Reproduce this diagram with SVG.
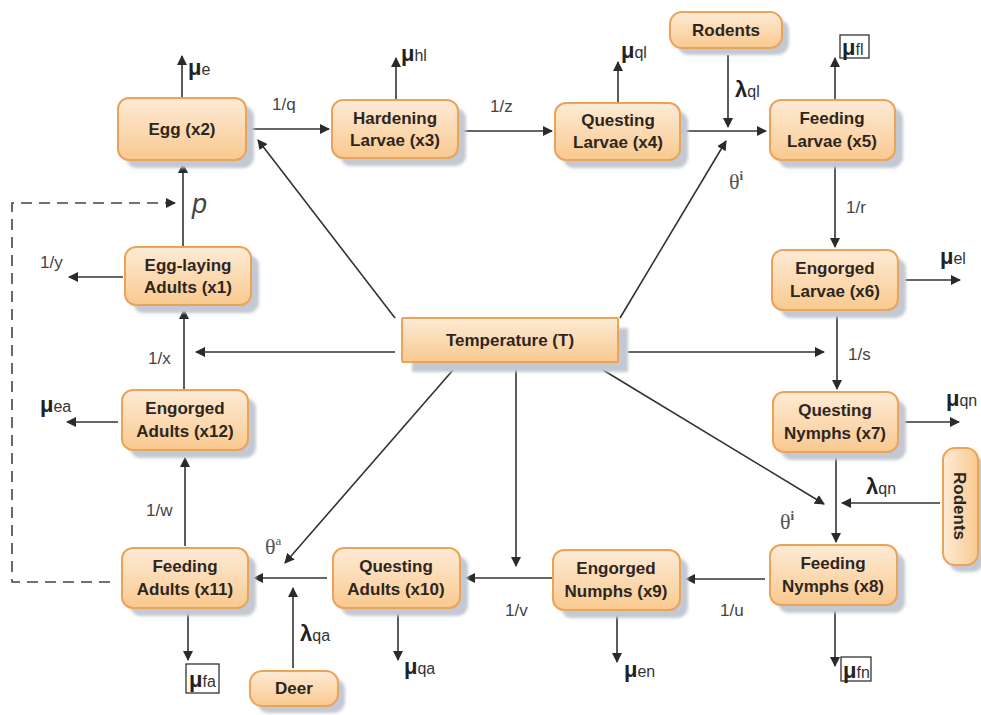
<svg xmlns="http://www.w3.org/2000/svg" width="981" height="715" viewBox="0 0 981 715">
<defs>
<linearGradient id="g" x1="0" y1="0" x2="0" y2="1">
<stop offset="0" stop-color="#fdebd6"/>
<stop offset="1" stop-color="#f9c98f"/>
</linearGradient>
<linearGradient id="gh" x1="0" y1="0" x2="1" y2="0">
<stop offset="0" stop-color="#fdebd6"/>
<stop offset="1" stop-color="#f9c98f"/>
</linearGradient>
<marker id="a" viewBox="0 0 10 10" refX="9" refY="5" markerWidth="10" markerHeight="10" markerUnits="userSpaceOnUse" orient="auto">
<path d="M0,0 L10,5 L0,10 Z" fill="#2b2b2b"/>
</marker>
<filter id="bl" x="-10%" y="-10%" width="120%" height="120%"><feGaussianBlur stdDeviation="1.5"/></filter>
</defs>
<style>
.sh{fill:#c3c8d2;filter:url(#bl)}
.nd{fill:url(#g);stroke:#eba35a;stroke-width:2}
.t{font-family:"Liberation Sans Narrow","Liberation Sans",Arial,sans-serif;font-weight:bold;font-size:17px;fill:#2e261e;text-anchor:middle}
.c{stroke:#333;stroke-width:1.6;fill:none;marker-end:url(#a)}
.d{stroke:#444;stroke-width:1.6;fill:none;stroke-dasharray:11 7;marker-end:url(#a)}
.l{font-family:"Liberation Sans",Arial,sans-serif;font-size:17px;fill:#444}
.mu{font-family:"Liberation Sans",Arial,sans-serif;font-size:22px;font-weight:bold;fill:#222}
.sub{font-family:"Liberation Sans",Arial,sans-serif;font-size:16px;font-weight:normal;fill:#333}
.th{font-family:"Liberation Serif","Times New Roman",serif;font-size:22px;fill:#555}
.bx{fill:#fff;stroke:#333;stroke-width:1.3}
</style>

<g id="connectors">
<line class="c" x1="182" y1="98" x2="182" y2="56"/>
<line class="c" x1="250" y1="129" x2="329" y2="129"/>
<line class="c" x1="396" y1="100" x2="396" y2="58"/>
<line class="c" x1="464" y1="131" x2="552" y2="131"/>
<line class="c" x1="618" y1="103" x2="618" y2="62"/>
<line class="c" x1="686" y1="131" x2="766" y2="131"/>
<line class="c" x1="728" y1="55" x2="728" y2="127"/>
<line class="c" x1="620" y1="318" x2="726" y2="141"/>
<line class="c" x1="835" y1="100" x2="835" y2="58"/>
<line class="c" x1="835" y1="163" x2="835" y2="247"/>
<line class="c" x1="905" y1="280" x2="960" y2="280"/>
<line class="c" x1="837" y1="315" x2="837" y2="389"/>
<line class="c" x1="628" y1="352" x2="824" y2="352"/>
<line class="c" x1="905" y1="422" x2="959" y2="422"/>
<line class="c" x1="836" y1="458" x2="836" y2="542"/>
<line class="c" x1="940" y1="503" x2="842" y2="503"/>
<line class="c" x1="603" y1="370" x2="824" y2="504"/>
<line class="c" x1="835" y1="610" x2="835" y2="666"/>
<line class="c" x1="765" y1="579" x2="686" y2="579"/>
<line class="c" x1="516" y1="365" x2="516" y2="566"/>
<line class="c" x1="552" y1="578" x2="466" y2="578"/>
<line class="c" x1="617" y1="612" x2="617" y2="662"/>
<line class="c" x1="398" y1="613" x2="398" y2="660"/>
<line class="c" x1="327" y1="578" x2="254" y2="578"/>
<line class="c" x1="293" y1="668" x2="293" y2="588"/>
<line class="c" x1="453" y1="370" x2="285" y2="563"/>
<line class="c" x1="188" y1="612" x2="188" y2="660"/>
<line class="c" x1="185" y1="546" x2="185" y2="458"/>
<line class="c" x1="118" y1="422" x2="67" y2="422"/>
<line class="c" x1="184" y1="389" x2="184" y2="310"/>
<line class="c" x1="395" y1="352" x2="196" y2="352"/>
<line class="c" x1="123" y1="277" x2="69" y2="277"/>
<line class="c" x1="183" y1="247" x2="183" y2="164"/>
<line class="c" x1="395" y1="318" x2="258" y2="140"/>
<polyline class="d" points="110,582 12,582 12,203 175,203"/>
</g>

<g id="labels">
<text class="mu" x="188" y="75">μ<tspan class="sub">e</tspan></text>
<text class="l" x="272" y="110">1/q</text>
<text class="mu" x="401" y="61">μ<tspan class="sub">hl</tspan></text>
<text class="l" x="490" y="112">1/z</text>
<text class="mu" x="621" y="58">μ<tspan class="sub">ql</tspan></text>
<text class="mu" x="735" y="97">λ<tspan class="sub">ql</tspan></text>
<text class="th" x="729" y="189">θ<tspan font-size="13" dy="-9" font-weight="bold">i</tspan></text>
<rect class="bx" x="840" y="35" width="29" height="23"/>
<text class="mu" x="842" y="55">μ<tspan class="sub">fl</tspan></text>
<text class="l" x="846" y="213">1/r</text>
<text class="mu" x="940" y="264">μ<tspan class="sub">el</tspan></text>
<text class="l" x="848" y="360">1/s</text>
<text class="mu" x="946" y="406">μ<tspan class="sub">qn</tspan></text>
<text class="mu" x="866" y="494">λ<tspan class="sub">qn</tspan></text>
<text class="th" x="780" y="529">θ<tspan font-size="13" dy="-9" font-weight="bold">i</tspan></text>
<rect class="bx" x="841" y="657" width="30" height="24"/>
<text class="mu" x="843" y="678">μ<tspan class="sub">fn</tspan></text>
<text class="l" x="720" y="616">1/u</text>
<text class="l" x="505" y="616">1/v</text>
<text class="mu" x="624" y="677">μ<tspan class="sub">en</tspan></text>
<text class="mu" x="404" y="674">μ<tspan class="sub">qa</tspan></text>
<text class="mu" x="300" y="641">λ<tspan class="sub">qa</tspan></text>
<text class="th" x="265" y="554">θ<tspan font-size="13" dy="-9">a</tspan></text>
<rect class="bx" x="186" y="664" width="33" height="29"/>
<text class="mu" x="189" y="687">μ<tspan class="sub">fa</tspan></text>
<text class="l" x="146" y="516">1/w</text>
<text class="mu" x="40" y="412">μ<tspan class="sub">ea</tspan></text>
<text class="l" x="148" y="364">1/x</text>
<text class="l" x="40" y="268">1/y</text>
<text x="192" y="213" font-family="Liberation Sans,Arial,sans-serif" font-style="italic" font-size="27" fill="#444">p</text>
</g>

<g id="egg"><rect class="sh" x="126" y="106" width="128" height="62" rx="11"/><rect class="nd" x="118" y="98" width="128" height="62" rx="11"/><text class="t" x="182" y="135">Egg (x2)</text></g>
<g id="hardening"><rect class="sh" x="340" y="108" width="126" height="58" rx="11"/><rect class="nd" x="332" y="100" width="126" height="58" rx="11"/><text class="t" x="395" y="124">Hardening</text><text class="t" x="395" y="146">Larvae (x3)</text></g>
<g id="questing-larvae"><rect class="sh" x="563" y="111" width="125" height="57" rx="11"/><rect class="nd" x="555" y="103" width="125" height="57" rx="11"/><text class="t" x="618" y="126">Questing</text><text class="t" x="618" y="148">Larvae (x4)</text></g>
<g id="rodents-top"><rect class="sh" x="677" y="19" width="112" height="36" rx="12"/><rect class="nd" x="670" y="12" width="112" height="36" rx="12"/><text class="t" x="726" y="36">Rodents</text></g>
<g id="feeding-larvae"><rect class="sh" x="778" y="108" width="125" height="60" rx="11"/><rect class="nd" x="770" y="100" width="125" height="60" rx="11"/><text class="t" x="832" y="124">Feeding</text><text class="t" x="832" y="147">Larvae (x5)</text></g>
<g id="engorged-larvae"><rect class="sh" x="780" y="258" width="126" height="60" rx="11"/><rect class="nd" x="772" y="250" width="126" height="60" rx="11"/><text class="t" x="835" y="274">Engorged</text><text class="t" x="835" y="297">Larvae (x6)</text></g>
<g id="questing-nymphs"><rect class="sh" x="781" y="400" width="125" height="60" rx="11"/><rect class="nd" x="773" y="392" width="125" height="60" rx="11"/><text class="t" x="835" y="416">Questing</text><text class="t" x="835" y="439">Nymphs (x7)</text></g>
<g id="rodents-right"><rect class="sh" x="949" y="455" width="35" height="117" rx="12"/><rect class="nd" style="fill:url(#gh)" x="943" y="448" width="35" height="117" rx="12"/><text class="t" transform="translate(954,506) rotate(90)">Rodents</text></g>
<g id="feeding-nymphs"><rect class="sh" x="778" y="553" width="127" height="60" rx="11"/><rect class="nd" x="770" y="545" width="127" height="60" rx="11"/><text class="t" x="833" y="569">Feeding</text><text class="t" x="833" y="592">Nymphs (x8)</text></g>
<g id="engorged-numphs"><rect class="sh" x="561" y="558" width="127" height="60" rx="11"/><rect class="nd" x="553" y="550" width="127" height="60" rx="11"/><text class="t" x="616" y="574">Engorged</text><text class="t" x="616" y="597">Numphs (x9)</text></g>
<g id="questing-adults"><rect class="sh" x="341" y="556" width="127" height="60" rx="11"/><rect class="nd" x="333" y="548" width="127" height="60" rx="11"/><text class="t" x="396" y="572">Questing</text><text class="t" x="396" y="595">Adults (x10)</text></g>
<g id="feeding-adults"><rect class="sh" x="130" y="556" width="126" height="60" rx="11"/><rect class="nd" x="122" y="548" width="126" height="60" rx="11"/><text class="t" x="185" y="572">Feeding</text><text class="t" x="185" y="595">Adults (x11)</text></g>
<g id="deer"><rect class="sh" x="257" y="678" width="88" height="35" rx="12"/><rect class="nd" x="250" y="671" width="88" height="35" rx="12"/><text class="t" x="294" y="694">Deer</text></g>
<g id="engorged-adults"><rect class="sh" x="130" y="398" width="126" height="60" rx="11"/><rect class="nd" x="122" y="390" width="126" height="60" rx="11"/><text class="t" x="185" y="414">Engorged</text><text class="t" x="185" y="437">Adults (x12)</text></g>
<g id="egg-laying-adults"><rect class="sh" x="133" y="255" width="126" height="58" rx="11"/><rect class="nd" x="125" y="247" width="126" height="58" rx="11"/><text class="t" x="188" y="271">Egg-laying</text><text class="t" x="188" y="293">Adults (x1)</text></g>
<g id="temperature"><rect class="sh" x="412" y="328" width="216" height="44"/><rect class="nd" x="402" y="318" width="216" height="44" rx="1"/><text class="t" x="510" y="346">Temperature (T)</text></g>
</svg>
